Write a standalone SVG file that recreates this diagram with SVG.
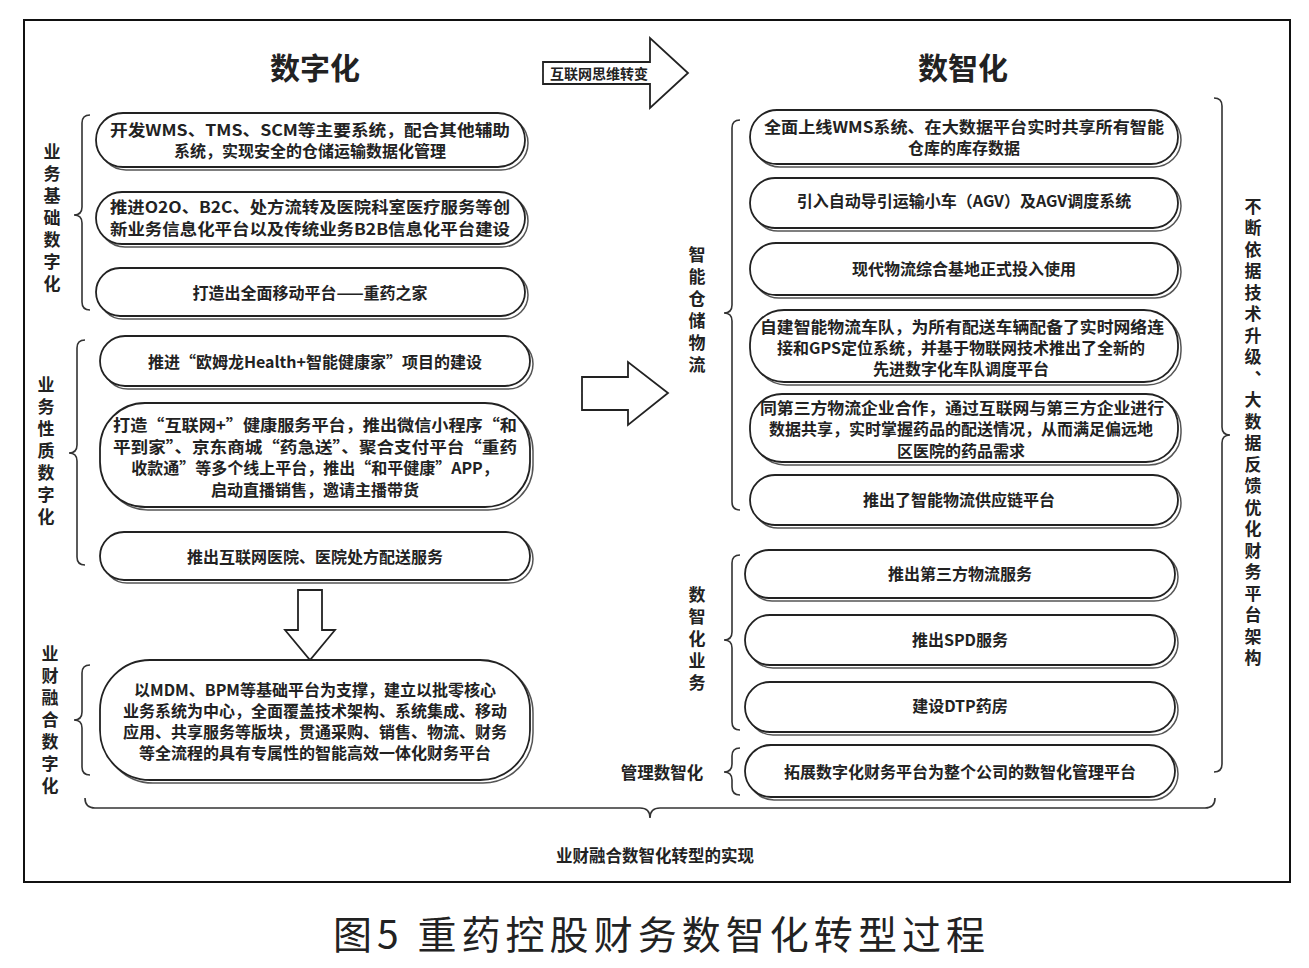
<svg xmlns="http://www.w3.org/2000/svg" width="1309" height="968" viewBox="0 0 1309 968">
<style>
text{font-family:"Noto Sans CJK SC","Liberation Sans",sans-serif;fill:#222}
.b{font-size:16px;font-weight:bold;text-anchor:middle}
.v{font-size:17px;font-weight:bold;writing-mode:vertical-rl;letter-spacing:5px}
.sh{fill:none;stroke:#555;stroke-width:1.5}
.bx{fill:#fff;stroke:#222;stroke-width:1.8}
.br{fill:none;stroke:#333;stroke-width:1.6}
.ar{fill:#fff;stroke:#222;stroke-width:1.8}
</style>
<rect width="1309" height="968" fill="#fff"/>
<rect x="24" y="20" width="1266" height="862" fill="none" stroke="#111" stroke-width="2"/>
<text x="315" y="79" font-size="30" font-weight="bold" text-anchor="middle">数字化</text>
<text x="963" y="79" font-size="30" font-weight="bold" text-anchor="middle">数智化</text>
<g id="connectors">
<path class="ar" d="M543,62 H650 V38 L688,73 L650,108 V84 H543 Z"/>
<text x="599" y="79" font-size="14" font-weight="bold" text-anchor="middle">互联网思维转变</text>
<path class="ar" d="M582,377 H628 V362 L668,393 L628,425 V410 H582 Z"/>
<path class="ar" d="M298,590 H322 V630 H335 L310,660 L285,630 H298 Z"/>
<path class="br" d="M90,115 Q82,115 82,123 L82,207 Q82,215 74,215 Q82,215 82,223 L82,302 Q82,310 90,310"/>
<path class="br" d="M85,340 Q77,340 77,348 L77,445 Q77,453 69,453 Q77,453 77,461 L77,557 Q77,565 85,565"/>
<path class="br" d="M90,665 Q82,665 82,673 L82,712 Q82,720 74,720 Q82,720 82,728 L82,767 Q82,775 90,775"/>
<path class="br" d="M740,120 Q732,120 732,128 L732,305 Q732,313 724,313 Q732,313 732,321 L732,502 Q732,510 740,510"/>
<path class="br" d="M740,555 Q732,555 732,563 L732,632 Q732,640 724,640 Q732,640 732,648 L732,722 Q732,730 740,730"/>
<path class="br" d="M740,748 Q732,748 732,756 L732,764 Q732,772 724,772 Q732,772 732,780 L732,787 Q732,795 740,795"/>
<path class="br" d="M1214,98 Q1222,98 1222,106 L1222,427 Q1222,435 1230,435 Q1222,435 1222,443 L1222,764 Q1222,772 1214,772"/>
<path class="br" d="M85,798 Q85,808 95,808 L640,808 Q650,808 650,818 Q650,808 660,808 L1205,808 Q1215,808 1215,798"/>
</g>
<g id="labels">
<text class="v" x="52" y="143">业务基础数字化</text>
<text class="v" x="46" y="376">业务性质数字化</text>
<text class="v" x="50" y="645">业财融合数字化</text>
<text class="v" x="697" y="246">智能仓储物流</text>
<text class="v" x="697" y="586">数智化业务</text>
<text x="662" y="779" font-size="16.5" font-weight="bold" text-anchor="middle">管理数智化</text>
<text class="v" x="1253" y="198" style="letter-spacing:4.5px">不断依据技术升级、大数据反馈优化财务平台架构</text>
<text x="655" y="862" font-size="16.5" font-weight="bold" text-anchor="middle">业财融合数智化转型的实现</text>
</g>
<g id="L1"><rect class="sh" x="99" y="116" width="429" height="54" rx="27"/><rect class="bx" x="96" y="113" width="429" height="54" rx="27"/>
<text class="b" x="310" y="136" textLength="400" lengthAdjust="spacingAndGlyphs">开发WMS、TMS、SCM等主要系统，配合其他辅助</text><text class="b" x="310" y="157">系统，实现安全的仓储运输数据化管理</text></g>
<g id="L2"><rect class="sh" x="99" y="195" width="429" height="52" rx="26"/><rect class="bx" x="96" y="192" width="429" height="52" rx="26"/>
<text class="b" x="310" y="213" textLength="400" lengthAdjust="spacingAndGlyphs">推进O2O、B2C、处方流转及医院科室医疗服务等创</text><text class="b" x="310" y="235" textLength="400" lengthAdjust="spacingAndGlyphs">新业务信息化平台以及传统业务B2B信息化平台建设</text></g>
<g id="L3"><rect class="sh" x="99" y="271" width="429" height="48" rx="24"/><rect class="bx" x="96" y="268" width="429" height="48" rx="24"/>
<text class="b" x="310" y="299">打造出全面移动平台——重药之家</text></g>
<g id="L4"><rect class="sh" x="103" y="339" width="430" height="50" rx="25"/><rect class="bx" x="100" y="336" width="430" height="50" rx="25"/>
<text class="b" x="315" y="368">推进“欧姆龙Health+智能健康家”项目的建设</text></g>
<g id="L5"><rect class="sh" x="103" y="406" width="430" height="104" rx="45"/><rect class="bx" x="100" y="403" width="430" height="104" rx="45"/>
<text class="b" x="315" y="431" textLength="404" lengthAdjust="spacingAndGlyphs">打造“互联网+”健康服务平台，推出微信小程序“和</text><text class="b" x="315" y="453" textLength="404" lengthAdjust="spacingAndGlyphs">平到家”、京东商城“药急送”、聚合支付平台“重药</text><text class="b" x="315" y="474">收款通”等多个线上平台，推出“和平健康”APP，</text><text class="b" x="315" y="496">启动直播销售，邀请主播带货</text></g>
<g id="L6"><rect class="sh" x="103" y="535" width="430" height="48" rx="24"/><rect class="bx" x="100" y="532" width="430" height="48" rx="24"/>
<text class="b" x="315" y="563">推出互联网医院、医院处方配送服务</text></g>
<g id="L7"><rect class="sh" x="103" y="663" width="430" height="120" rx="50"/><rect class="bx" x="100" y="660" width="430" height="120" rx="50"/>
<text class="b" x="315" y="696">以MDM、BPM等基础平台为支撑，建立以批零核心</text><text class="b" x="315" y="717">业务系统为中心，全面覆盖技术架构、系统集成、移动</text><text class="b" x="315" y="738">应用、共享服务等版块，贯通采购、销售、物流、财务</text><text class="b" x="315" y="759">等全流程的具有专属性的智能高效一体化财务平台</text></g>
<g id="R1"><rect class="sh" x="753" y="113" width="428" height="54" rx="27"/><rect class="bx" x="750" y="110" width="428" height="54" rx="27"/>
<text class="b" x="964" y="133" textLength="400" lengthAdjust="spacingAndGlyphs">全面上线WMS系统、在大数据平台实时共享所有智能</text><text class="b" x="964" y="154">仓库的库存数据</text></g>
<g id="R2"><rect class="sh" x="753" y="181" width="428" height="50" rx="25"/><rect class="bx" x="750" y="178" width="428" height="50" rx="25"/>
<text class="b" x="964" y="207">引入自动导引运输小车（AGV）及AGV调度系统</text></g>
<g id="R3"><rect class="sh" x="753" y="246" width="428" height="52" rx="26"/><rect class="bx" x="750" y="243" width="428" height="52" rx="26"/>
<text class="b" x="964" y="275">现代物流综合基地正式投入使用</text></g>
<g id="R4"><rect class="sh" x="753" y="313" width="428" height="72" rx="34"/><rect class="bx" x="750" y="310" width="428" height="72" rx="34"/>
<text class="b" x="962" y="333" textLength="404" lengthAdjust="spacingAndGlyphs">自建智能物流车队，为所有配送车辆配备了实时网络连</text><text class="b" x="961" y="354">接和GPS定位系统，并基于物联网技术推出了全新的</text><text class="b" x="961" y="375">先进数字化车队调度平台</text></g>
<g id="R5"><rect class="sh" x="753" y="397" width="428" height="68" rx="32"/><rect class="bx" x="750" y="394" width="428" height="68" rx="32"/>
<text class="b" x="962" y="414" textLength="404" lengthAdjust="spacingAndGlyphs">同第三方物流企业合作，通过互联网与第三方企业进行</text><text class="b" x="961" y="435">数据共享，实时掌握药品的配送情况，从而满足偏远地</text><text class="b" x="961" y="457">区医院的药品需求</text></g>
<g id="R6"><rect class="sh" x="753" y="478" width="428" height="50" rx="25"/><rect class="bx" x="750" y="475" width="428" height="50" rx="25"/>
<text class="b" x="959" y="506">推出了智能物流供应链平台</text></g>
<g id="R7"><rect class="sh" x="748" y="553" width="430" height="48" rx="24"/><rect class="bx" x="745" y="550" width="430" height="48" rx="24"/>
<text class="b" x="960" y="580">推出第三方物流服务</text></g>
<g id="R8"><rect class="sh" x="748" y="618" width="430" height="50" rx="25"/><rect class="bx" x="745" y="615" width="430" height="50" rx="25"/>
<text class="b" x="960" y="646">推出SPD服务</text></g>
<g id="R9"><rect class="sh" x="748" y="685" width="430" height="50" rx="25"/><rect class="bx" x="745" y="682" width="430" height="50" rx="25"/>
<text class="b" x="960" y="712">建设DTP药房</text></g>
<g id="R10"><rect class="sh" x="748" y="745" width="430" height="52" rx="26" transform="translate(0,3)"/><rect class="bx" x="745" y="745" width="430" height="52" rx="26"/>
<text class="b" x="960" y="778">拓展数字化财务平台为整个公司的数智化管理平台</text></g>
<text x="659" y="949" font-size="39" text-anchor="middle" fill="#111" textLength="652" lengthAdjust="spacing">图5 重药控股财务数智化转型过程</text>
</svg>
